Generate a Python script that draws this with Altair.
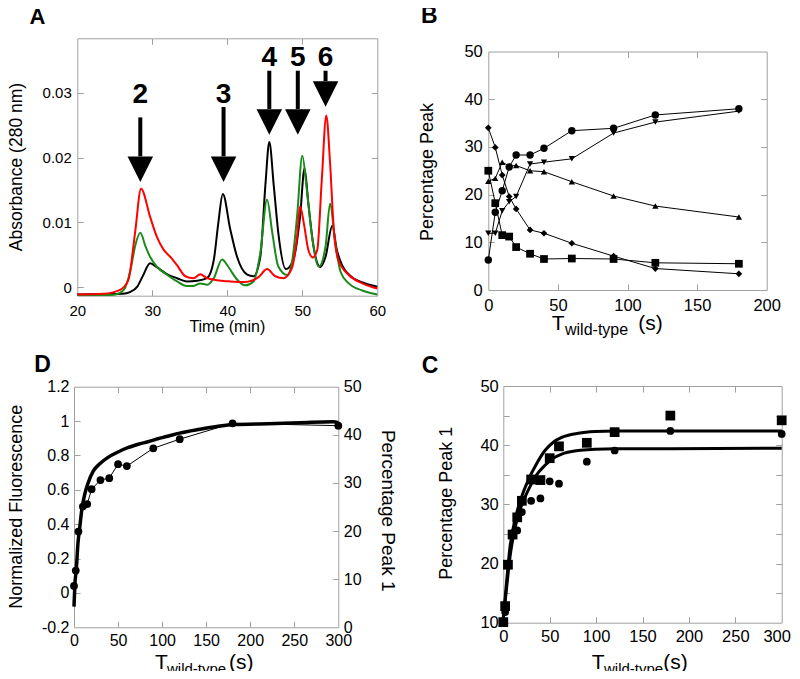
import altair as alt
import pandas as pd

W, H = 784, 663
FONT = "Liberation Sans"
GRAY = "#a0a0a0"
TK = 6

# ---------------- Panel A : chromatogram ----------------
black_t = [20, 24, 26, 27.1, 28, 28.8, 29.7, 30.6, 32, 33.3, 34.6, 36, 37.3, 38.2, 38.8, 39.4,
           40.4, 41.3, 42.6, 43.5, 44.4, 45.1, 45.6, 46.2, 46.8, 47.8, 48.8, 49.7, 50.3, 50.8,
           51.5, 52.4, 53.1, 54.0, 54.6, 55.3, 56.6, 58.4, 60]
black_a = [-0.0011, -0.00105, -0.0010, -0.0007, 0.0001, 0.0019, 0.0037, 0.0031, 0.0020, 0.0014,
           0.0009, 0.0010, 0.0014, 0.0042, 0.0099, 0.0144, 0.0089, 0.0047, 0.0020, 0.0017,
           0.0047, 0.0161, 0.0224, 0.0156, 0.0084, 0.0028, 0.0042, 0.0109, 0.0183, 0.0130,
           0.0063, 0.0031, 0.0047, 0.0095, 0.0058, 0.0034, 0.0016, 0.0006, 0.0001]
green_t = [20, 24, 25.1, 26.2, 27.1, 27.7, 28.4, 29.1, 29.7, 30.6, 32, 33.3, 34.6, 35.5, 36.4,
           37.3, 38.2, 39.3, 40.0, 40.4, 41.3, 42.4, 43.5, 44.4, 45.3, 46.0, 46.8, 48.0, 48.6,
           49.3, 50.0, 50.6, 51.3, 52.2, 53.1, 53.7, 54.4, 55.1, 56.2, 58, 60]
green_a = [-0.0012, -0.0012, -0.0011, -0.0004, 0.0027, 0.0063, 0.0084, 0.0063, 0.0047, 0.0032,
           0.0019, 0.0009, 0.0002, 0.0002, 0.0006, 0.0004, 0.0014, 0.0043, 0.0034, 0.0027,
           0.0012, 0.0003, 0.0009, 0.0053, 0.0135, 0.0084, 0.0032, 0.0019, 0.0037, 0.0109,
           0.0203, 0.0151, 0.0078, 0.0032, 0.0063, 0.0129, 0.0068, 0.0024, 0.0006, -0.0005, -0.0011]
red_t = [20, 23.5, 25.7, 26.8, 27.7, 28.5, 29.7, 30.6, 31.5, 32.4, 33.3, 34.4, 35.5, 36.4, 37.3,
         38.6, 40.4, 42.4, 44.2, 45.3, 46.4, 47.5, 48.6, 49.3, 49.7, 50.2, 50.8, 51.4, 52.0,
         52.6, 53.2, 53.7, 54.2, 54.8, 56.2, 58.0, 60]
red_a = [-0.0011, -0.0010, -0.0004, 0.0011, 0.0084, 0.0152, 0.0109, 0.0078, 0.0058, 0.0047,
         0.0034, 0.0017, 0.0014, 0.0020, 0.0014, 0.0011, 0.0009, 0.0008, 0.0016, 0.0028,
         0.0017, 0.0014, 0.0029, 0.0078, 0.0125, 0.0099, 0.0058, 0.0046, 0.0058, 0.0166,
         0.0265, 0.0192, 0.0089, 0.0042, 0.0019, 0.0006, -0.0002]

arrow_t = [28.4, 39.5, 45.6, 49.4, 53.1]
arrow_label = ["2", "3", "4", "5", "6"]
arrow_label_y = [0.0296, 0.0296, 0.0354, 0.0354, 0.0354]
arrow_top = [0.0262, 0.0278, 0.0334, 0.0334, 0.0334]
arrow_bottom = [0.0202, 0.0202, 0.0275, 0.0275, 0.0318]
arrow_head = [0.0182, 0.0182, 0.0255, 0.0255, 0.0298]

# ---------------- Panel B : percentage peaks ----------------
b_t = [0, 5, 10, 15, 20, 30, 40, 60, 90, 120, 180]
b_circle = [6.3, 16.3, 20.8, 25.8, 28.3, 28.3, 29.7, 33.4, 33.9, 36.7, 38.0]
b_square = [25.0, 18.2, 11.5, 11.2, 9.0, 7.6, 6.5, 6.6, 6.5, 5.7, 5.5]
b_tri_up = [22.8, 23.4, 26.8, 26.0, 26.1, 25.0, 24.8, 22.7, 19.7, 17.6, 15.3]
b_tri_down = [11.9, 11.9, 16.6, 18.5, 19.6, 26.4, 26.8, 27.5, 32.9, 35.2, 37.5]
b_diamond = [34.0, 29.9, 24.1, 19.6, 17.0, 12.6, 11.9, 9.8, 7.1, 4.5, 3.4]

# ---------------- Panel D : fluorescence vs peak 1 ----------------
d_fl_t = [0, 1, 2.5, 4.5, 6.5, 9, 12, 16, 22, 29, 39, 50, 61, 73, 84, 95, 105, 120, 143, 162,
          181, 220, 256, 294, 300]
d_fl = [-0.08, 0.05, 0.13, 0.29, 0.38, 0.49, 0.57, 0.64, 0.71, 0.75, 0.79, 0.82, 0.845, 0.865,
        0.88, 0.897, 0.91, 0.93, 0.952, 0.968, 0.98, 0.985, 0.99, 0.996, 0.99]
p1_t = [0, 2, 5, 10, 15, 20, 30, 40, 50, 60, 90, 120, 180, 300]
p1_circle = [8.6, 11.8, 19.9, 25.1, 25.6, 28.7, 30.6, 31.0, 33.9, 33.5, 37.2, 39.1, 42.4, 41.9]

# ---------------- Panel C : peak 1 fits ----------------
c_square = [10.1, 12.8, 19.8, 24.9, 27.8, 30.6, 34.2, 34.1, 37.8, 39.8, 40.4, 42.2, 45.0, 44.2]
fit_up_t = [0, 3.7, 7.2, 12.6, 19.8, 26.9, 36, 44.9, 53.9, 62.9, 80.8, 98.8, 120, 180, 300]
fit_up = [10.8, 17.2, 22.8, 27.4, 31.3, 34.1, 36.9, 39.1, 40.5, 41.3, 42.0, 42.3, 42.4, 42.4, 42.4]
fit_lo_t = [0, 3.7, 7.2, 12.6, 19.8, 26.9, 36, 44.9, 53.9, 62.9, 80.8, 98.8, 120, 180, 300]
fit_lo = [10.6, 16.1, 21.1, 26.0, 29.9, 32.4, 35.0, 36.6, 37.8, 38.5, 39.1, 39.3, 39.4, 39.4, 39.5]


def sc(dom, rng):
    return alt.Scale(domain=dom, range=rng, nice=False, zero=False)


def axes_layers(xdom, xr, ydom, yr, xlab, ylab, xtk, ytk, fs, xpad, ypad,
                ylabexpr=None, rdom=None, rlab=None, rtk=None, rpad=5, xlabel_offset=None):
    L, R = xr
    Bm, Tp = yr
    dummy = pd.DataFrame({"x": [xdom[0]], "y": [ydom[0]]})
    base = alt.Chart(dummy).mark_point(opacity=0, size=1)
    com = dict(grid=False, title=None, labelFont=FONT, labelColor="#000000", labelFontSize=fs,
               domainColor=GRAY, domainWidth=1, tickColor=GRAY, tickWidth=1,
               labelFlush=False, labelOverlap=False)
    xs = sc(xdom, xr)
    ys = sc(ydom, yr)
    extra = {"labelExpr": ylabexpr} if ylabexpr else {}
    xextra = {"labelOffset": xlabel_offset} if xlabel_offset is not None else {}
    out = []
    out.append(base.encode(
        x=alt.X("x:Q", scale=xs, axis=alt.Axis(orient="bottom", offset=Bm - H, values=xlab,
                                                ticks=False, labelPadding=xpad, **xextra, **com)),
        y=alt.Y("y:Q", scale=ys, axis=alt.Axis(orient="left", offset=-L, values=ylab,
                                                ticks=False, labelPadding=ypad, **extra, **com))))
    if rdom is None:
        ry = alt.Y("y:Q", scale=ys, axis=alt.Axis(orient="right", offset=R - W, labels=False,
                                                   ticks=False, values=ylab, **com))
        rty = alt.Y("y:Q", scale=ys, axis=alt.Axis(orient="right", offset=R - TK - W, domain=False,
                                                    labels=False, ticks=True, tickSize=TK, values=ytk, **com))
        rdummy = dummy
    else:
        rs = sc(rdom, yr)
        rdummy = pd.DataFrame({"x": [xdom[0]], "y": [rdom[0]]})
        ry = alt.Y("y:Q", scale=rs, axis=alt.Axis(orient="right", offset=R - W, values=rlab,
                                                   ticks=False, labelPadding=rpad, **com))
        rty = alt.Y("y:Q", scale=rs, axis=alt.Axis(orient="right", offset=R - TK - W, domain=False,
                                                    labels=False, ticks=True, tickSize=TK, values=rtk, **com))
    rbase = alt.Chart(rdummy).mark_point(opacity=0, size=1)
    out.append(rbase.encode(
        x=alt.X("x:Q", scale=xs, axis=alt.Axis(orient="top", offset=-Tp, labels=False,
                                                ticks=False, values=xlab, **com)),
        y=ry))
    out.append(base.encode(
        x=alt.X("x:Q", scale=xs, axis=alt.Axis(orient="bottom", offset=Bm - TK - H, domain=False,
                                                labels=False, ticks=True, tickSize=TK, values=xtk, **com)),
        y=alt.Y("y:Q", scale=ys, axis=alt.Axis(orient="left", offset=-(L + TK), domain=False,
                                                labels=False, ticks=True, tickSize=TK, values=ytk, **com))))
    out.append(rbase.encode(
        x=alt.X("x:Q", scale=xs, axis=alt.Axis(orient="top", offset=-(Tp + TK), domain=False,
                                                labels=False, ticks=True, tickSize=TK, values=xtk, **com)),
        y=rty))
    return out


def line(xv, yv, xs, ys, color="black", width=1.0, interp="monotone"):
    df = pd.DataFrame({"x": xv, "y": yv})
    return alt.Chart(df).mark_line(color=color, strokeWidth=width, interpolate=interp).encode(
        x=alt.X("x:Q", scale=xs, axis=None), y=alt.Y("y:Q", scale=ys, axis=None))


def points(xv, yv, xs, ys, shape, size):
    df = pd.DataFrame({"x": xv, "y": yv})
    return alt.Chart(df).mark_point(shape=shape, size=size, filled=True, color="black",
                                    opacity=1).encode(
        x=alt.X("x:Q", scale=xs, axis=None), y=alt.Y("y:Q", scale=ys, axis=None))


def text(s, x, y, size, angle=0, bold=False, align="center", baseline="middle"):
    d = pd.DataFrame({"a": [0]})
    return alt.Chart(d).mark_text(font=FONT, fontSize=size, angle=angle, align=align,
                                  baseline=baseline, color="black",
                                  fontWeight="bold" if bold else "normal").encode(
        x=alt.value(x), y=alt.value(y), text=alt.value(s))


layers = []

# ---- Panel A ----
A_xd, A_xr = [20, 60], [69.3, 369.3]
A_yd, A_yr = [-0.0013, 0.0384], [287.7, 30.3]
axs, ays = sc(A_xd, A_xr), sc(A_yd, A_yr)
layers += axes_layers(A_xd, A_xr, A_yd, A_yr, [20, 30, 40, 50, 60], [0, 0.01, 0.02, 0.03],
                      [30, 40, 50], [0, 0.01, 0.02, 0.03], 15, 8, 6,
                      ylabexpr="datum.value == 0 ? '0' : format(datum.value, '.2f')")
layers.append(line(black_t, black_a, axs, ays, "black", 2))
layers.append(line(green_t, green_a, axs, ays, "#1b8a1b", 2))
layers.append(line(red_t, red_a, axs, ays, "#ff0000", 2))
arr = pd.DataFrame({"t": arrow_t, "lab": arrow_label, "ly": arrow_label_y, "top": arrow_top,
                    "bot": arrow_bottom, "head": arrow_head})
layers.append(alt.Chart(arr).mark_rule(strokeWidth=4, color="black").encode(
    x=alt.X("t:Q", scale=axs, axis=None), y=alt.Y("top:Q", scale=ays, axis=None), y2="bot:Q"))
layers.append(alt.Chart(arr).mark_point(shape="M-1,-1L1,-1L0,1Z", size=650, filled=True,
                                        color="black", opacity=1).encode(
    x=alt.X("t:Q", scale=axs, axis=None), y=alt.Y("head:Q", scale=ays, axis=None)))
layers.append(alt.Chart(arr).mark_text(font=FONT, fontSize=28, fontWeight="bold",
                                       baseline="middle", align="center", color="black").encode(
    x=alt.X("t:Q", scale=axs, axis=None), y=alt.Y("ly:Q", scale=ays, axis=None), text="lab:N"))
layers.append(text("A", 29.5, 15.5, 22, bold=True, baseline="alphabetic"))
layers.append(text("Absorbance (280 nm)", 9, 159, 17.5, angle=270))
layers.append(text("Time (min)", 219.3, 319, 16))

# ---- Panel B ----
B_xd, B_xr = [0, 200], [480.3, 758.7]
B_yd, B_yr = [0, 50], [282, 43.5]
bxs, bys = sc(B_xd, B_xr), sc(B_yd, B_yr)
layers += axes_layers(B_xd, B_xr, B_yd, B_yr, [0, 50, 100, 150, 200], [0, 10, 20, 30, 40, 50],
                      [50, 100, 150], [10, 20, 30, 40], 16.5, 7, 6)
for vals, shape, size in [(b_square, "square", 60), (b_diamond, "diamond", 45),
                          (b_tri_up, "triangle-up", 40), (b_tri_down, "triangle-down", 40),
                          (b_circle, "circle", 55)]:
    layers.append(line(b_t, vals, bxs, bys, "black", 1, "linear"))
    layers.append(points(b_t, vals, bxs, bys, shape, size))
layers.append(text("B", 421.2, 14.5, 23, bold=True, baseline="alphabetic"))
layers.append(text("Percentage Peak", 420.3, 164, 18, angle=270))
layers.append(text("T", 543.7, 322, 21, align="left", baseline="alphabetic"))
layers.append(text("wild-type", 557, 327, 16, align="left", baseline="alphabetic"))
layers.append(text("(s)", 630.3, 322, 21, align="left", baseline="alphabetic"))

# ---- Panel D ----
D_xd, D_xr = [0, 300], [66, 330.3]
D_yd, D_yr = [-0.2, 1.2], [619.3, 378.7]
D_rd = [0, 50]
dxs, dys, drs = sc(D_xd, D_xr), sc(D_yd, D_yr), sc(D_rd, D_yr)
layers += axes_layers(D_xd, D_xr, D_yd, D_yr, [0, 50, 100, 150, 200, 250, 300],
                      [-0.2, 0, 0.2, 0.4, 0.6, 0.8, 1, 1.2],
                      [50, 100, 150, 200, 250], [0, 0.2, 0.4, 0.6, 0.8, 1], 16, 5, 5,
                      ylabexpr="datum.value < 0 ? '-' + format(-datum.value, '~g') : format(datum.value, '~g')",
                      rdom=D_rd, rlab=[0, 10, 20, 30, 40, 50], rtk=[10, 20, 30, 40], rpad=5)
layers.append(line(d_fl_t, d_fl, dxs, dys, "black", 3.5))
layers.append(line(p1_t, p1_circle, dxs, drs, "black", 1, "linear"))
layers.append(points(p1_t, p1_circle, dxs, drs, "circle", 60))
layers.append(text("D", 34.5, 363.7, 23, bold=True, baseline="alphabetic"))
layers.append(text("Normalized Fluorescence", 9, 498.7, 18, angle=270))
layers.append(text("Percentage Peak 1", 380.3, 502.7, 19, angle=90))
layers.append(text("T", 147, 661, 21, align="left", baseline="alphabetic"))
layers.append(text("wild-type", 159, 666, 15, align="left", baseline="alphabetic"))
layers.append(text("(s)", 221, 661, 21, align="left", baseline="alphabetic"))

# ---- Panel C ----
C_xd, C_xr = [0, 300], [495.3, 773.7]
C_yd, C_yr = [10, 50], [614.7, 378]
cxs, cys = sc(C_xd, C_xr), sc(C_yd, C_yr)
layers += axes_layers(C_xd, C_xr, C_yd, C_yr, [0, 50, 100, 150, 200, 250, 300],
                      [10, 20, 30, 40, 50], [50, 100, 150, 200, 250],
                      [15, 20, 25, 30, 35, 40, 45], 16.5, 6, 5,
                      xlabel_offset={"condition": {"test": "datum.value == 300", "value": -5},
                                     "value": 0})
layers.append(line(fit_up_t, fit_up, cxs, cys, "black", 3))
layers.append(line(fit_lo_t, fit_lo, cxs, cys, "black", 3))
layers.append(points(p1_t, c_square, cxs, cys, "square", 95))
c_ct = [t for t, v in zip(p1_t, p1_circle) if v >= 10]
c_cv = [v for v in p1_circle if v >= 10]
layers.append(points(c_ct, c_cv, cxs, cys, "circle", 60))
layers.append(text("C", 422, 365.3, 23, bold=True, baseline="alphabetic"))
layers.append(text("Percentage Peak 1", 438.7, 495.3, 18, angle=270))
layers.append(text("T", 583.7, 661, 21, align="left", baseline="alphabetic"))
layers.append(text("wild-type", 596, 666, 15, align="left", baseline="alphabetic"))
layers.append(text("(s)", 655.3, 661, 21, align="left", baseline="alphabetic"))

chart = alt.layer(*layers).resolve_scale(x="independent", y="independent").properties(
    width=W, height=H, padding=0, autosize=alt.AutoSizeParams(type="none"),
    background="white").configure_view(stroke=None)

chart.save("out.html", embed_options={"renderer": "svg", "actions": False})
